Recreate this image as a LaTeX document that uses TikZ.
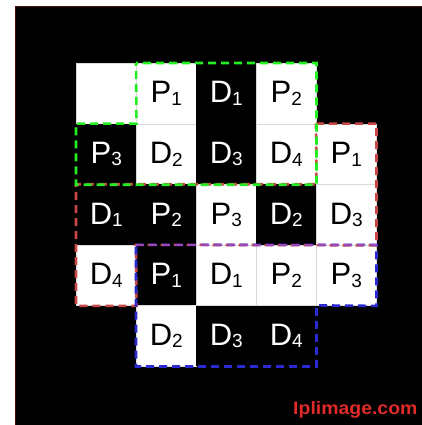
\documentclass[tikz,border=0pt]{standalone}
\usepackage{fontspec}
\setmainfont{Liberation Sans}
\definecolor{gline}{HTML}{22EE22}
\definecolor{rline}{HTML}{C84848}
\definecolor{bline}{HTML}{2A2AD0}
\definecolor{pline}{HTML}{9A48B8}
\definecolor{frame}{HTML}{4A0C0C}
\definecolor{mark}{HTML}{E02A2A}
\newcommand{\cl}[2]{#1\raisebox{-2.5pt}{\fontsize{19}{19}\selectfont #2}}
\begin{document}
\begin{tikzpicture}[x=1pt,y=-1pt,
  cellw/.style={draw=gray!30, line width=0.5pt, fill=white, text=black,
    minimum width=60pt, minimum height=60.6pt, inner sep=0pt, anchor=north west,
    font=\fontsize{31}{31}\selectfont},
  cellb/.style={cellw, draw=none, fill=black, text=white},
  dashline/.style={line width=2.6pt, dash pattern=on 8pt off 5pt, line join=miter}]
\useasboundingbox (0,0) rectangle (422,425);
\fill[white] (0,0) rectangle (422,425);
\draw[fill=black, draw=frame, line width=1.5pt] (15.5,6.5) rectangle (424,427);
% row 1
\node[cellw] (c11) at (76,63) {};
\node[cellw] (c12) at (136,63) {\cl{P}{1}};
\node[cellb] (c13) at (196,63) {\cl{D}{1}};
\node[cellw] (c14) at (256,63) {\cl{P}{2}};
% row 2
\node[cellb] (c21) at (76,123.6) {\cl{P}{3}};
\node[cellw] (c22) at (136,123.6) {\cl{D}{2}};
\node[cellb] (c23) at (196,123.6) {\cl{D}{3}};
\node[cellw] (c24) at (256,123.6) {\cl{D}{4}};
\node[cellw] (c25) at (316,123.6) {\cl{P}{1}};
% row 3
\node[cellb] (c31) at (76,184.2) {\cl{D}{1}};
\node[cellb] (c32) at (136,184.2) {\cl{P}{2}};
\node[cellw] (c33) at (196,184.2) {\cl{P}{3}};
\node[cellb] (c34) at (256,184.2) {\cl{D}{2}};
\node[cellw] (c35) at (316,184.2) {\cl{D}{3}};
% row 4
\node[cellw] (c41) at (76,244.8) {\cl{D}{4}};
\node[cellb] (c42) at (136,244.8) {\cl{P}{1}};
\node[cellw] (c43) at (196,244.8) {\cl{D}{1}};
\node[cellw] (c44) at (256,244.8) {\cl{P}{2}};
\node[cellw] (c45) at (316,244.8) {\cl{P}{3}};
% row 5
\node[cellw] (c52) at (136,305.4) {\cl{D}{2}};
\node[cellb] (c53) at (196,305.4) {\cl{D}{3}};
\node[cellb] (c54) at (256,305.4) {\cl{D}{4}};
% red group
\draw[dashline, rline] (c25.north west) -- (c25.north east) -- (c35.south east)
  -- (c42.north west) -- (c41.south east) -- (c41.south west)
  -- (c31.north west) -- (c34.north east) -- cycle;
% green group
\draw[dashline, gline, dash phase=6pt] (c12.north west) -- (c14.north east) -- (c24.south east)
  -- (c21.south west) -- (c21.north west) -- (c21.north east) -- cycle;
% blue group
\draw[dashline, bline] (c42.north west) -- (c45.north east) -- (c45.south east)
  -- (c54.north east) -- (c54.south east) -- (c52.south west) -- cycle;
% overlap of red and blue
\draw[dashline, pline] (c42.north west) -- (c45.north east);
% watermark
\node[anchor=base west, inner sep=0pt, text=mark, xscale=1.08,
  font=\fontsize{18}{18}\selectfont\bfseries] (wm) at (293,414) {Iplimage.com};
\end{tikzpicture}
\end{document}
